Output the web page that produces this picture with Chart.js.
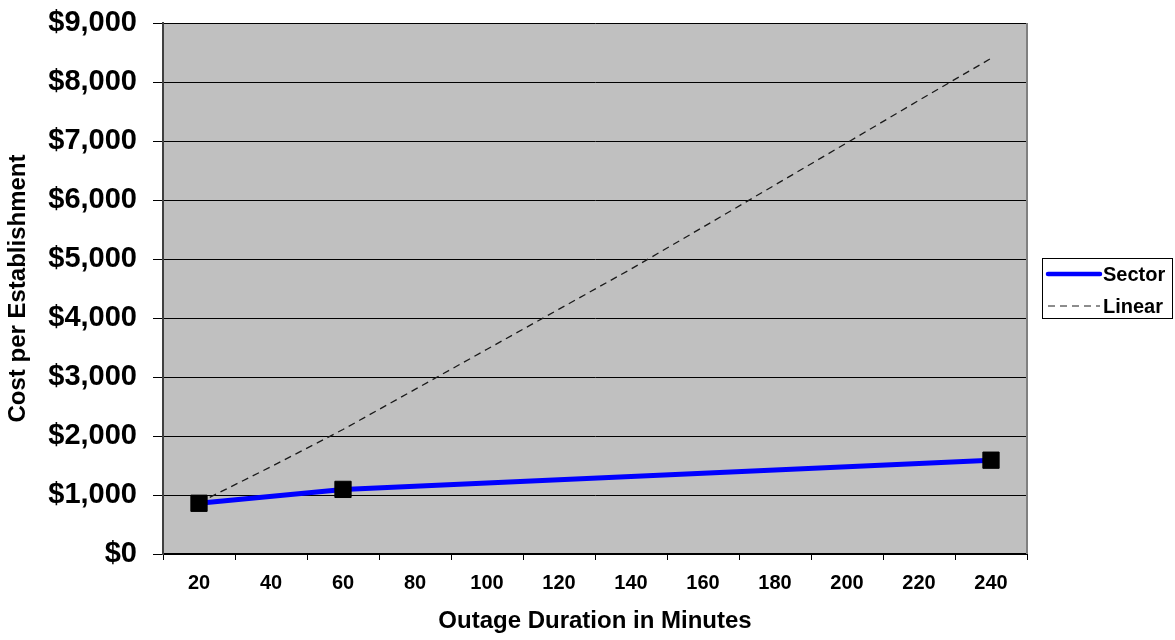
<!DOCTYPE html>
<html>
<head>
<meta charset="utf-8">
<script src="https://cdn.jsdelivr.net/npm/chart.js@4"></script>
<style>
  html, body { margin: 0; padding: 0; background: #ffffff; }
  #wrap { width: 1175px; height: 640px; }
</style>
</head>
<body>
<div id="wrap"><canvas id="c" width="1175" height="640"></canvas></div>
<script>
// Outage duration categories (minutes)
const durations = ['20', '40', '60', '80', '100', '120', '140', '160', '180', '200', '220', '240'];
// Sector cost per establishment, surveyed durations only
const sectorCost = [860, null, 1095, null, null, null, null, null, null, null, null, 1590];
// Linear reference cost
const linearCost = [870, 1480, 2110, 2790, 3470, 4150, 4830, 5540, 6255, 6970, 7690, 8400];
const seriesNames = ['Sector', 'Linear'];

const FONT = '"Liberation Sans", Arial, Helvetica, sans-serif';

const plotBackground = {
  id: 'plotBackground',
  beforeDraw(chart) {
    const { ctx, chartArea: a } = chart;
    ctx.save();
    ctx.fillStyle = '#C0C0C0';
    ctx.fillRect(a.left, a.top, a.right - a.left, a.bottom - a.top);
    ctx.restore();
  },
  beforeDatasetsDraw(chart) {
    const { ctx, chartArea: a } = chart;
    ctx.save();
    ctx.strokeStyle = '#808080';
    ctx.lineWidth = 2;
    ctx.beginPath();
    ctx.moveTo(a.right, a.top);
    ctx.lineTo(a.right, a.bottom);
    ctx.stroke();
    ctx.restore();
  }
};

// Boxed legend to the right of the plot
const boxLegend = {
  id: 'boxLegend',
  afterDraw(chart) {
    const { ctx } = chart;
    const x0 = 1042.5, y0 = 258.5, w = 130, h = 60;
    ctx.save();
    ctx.fillStyle = '#ffffff';
    ctx.fillRect(x0, y0, w, h);
    ctx.strokeStyle = '#000000';
    ctx.lineWidth = 1;
    ctx.strokeRect(x0, y0, w, h);
    const rows = [274, 306];
    chart.data.datasets.forEach((ds, i) => {
      const y = rows[i];
      ctx.save();
      ctx.strokeStyle = ds.borderColor;
      ctx.lineWidth = ds.legendLineWidth;
      ctx.setLineDash(ds.borderDash || []);
      ctx.lineCap = ds.borderDash ? 'butt' : 'round';
      ctx.beginPath();
      ctx.moveTo(1048, y);
      ctx.lineTo(1100, y);
      ctx.stroke();
      ctx.restore();
      ctx.fillStyle = '#000000';
      ctx.font = 'bold 20px ' + FONT;
      ctx.textBaseline = 'middle';
      ctx.textAlign = 'left';
      ctx.fillText(ds.label, 1103, y + 1);
    });
    ctx.restore();
  }
};

new Chart(document.getElementById('c'), {
  type: 'line',
  data: {
    labels: durations,
    datasets: [
      {
        label: seriesNames[0],
        data: sectorCost,
        borderColor: '#0000FF',
        borderWidth: 5,
        legendLineWidth: 4.5,
        spanGaps: true,
        tension: 0,
        pointStyle: 'rect',
        pointRadius: 11.5,
        pointHoverRadius: 11.5,
        pointBackgroundColor: '#000000',
        pointBorderColor: '#000000',
        pointBorderWidth: 1
      },
      {
        label: seriesNames[1],
        data: linearCost,
        borderColor: '#1a1a1a',
        borderWidth: 1.3,
        legendLineWidth: 1,
        borderDash: [7, 5],
        tension: 0,
        pointRadius: 0,
        pointHoverRadius: 0
      }
    ]
  },
  options: {
    responsive: false,
    animation: false,
    devicePixelRatio: 1,
    layout: { padding: { top: 23, right: 148, left: 0, bottom: 0 } },
    plugins: {
      legend: { display: false },
      tooltip: { enabled: false },
      title: { display: false }
    },
    scales: {
      x: {
        type: 'category',
        offset: true,
        afterFit(s) { s.height = 86; s.paddingLeft = 0; s.paddingRight = 0; },
        grid: {
          offset: true,
          drawOnChartArea: false,
          drawTicks: true,
          tickLength: 6,
          color: '#000000',
          lineWidth: 1
        },
        border: { display: true, color: '#000000', width: 2 },
        ticks: {
          color: '#000000',
          font: { family: FONT, size: 20, weight: 'bold' },
          padding: 11,
          maxRotation: 0,
          autoSkip: false
        },
        title: {
          display: true,
          text: 'Outage Duration in Minutes',
          color: '#000000',
          font: { family: FONT, size: 24, weight: 'bold' },
          padding: { top: 0, bottom: 4 }
        }
      },
      y: {
        min: 0,
        max: 9000,
        afterFit(s) { s.width = 163; s.paddingTop = 0; s.paddingBottom = 0; },
        grid: {
          drawOnChartArea: true,
          drawTicks: true,
          tickLength: 10,
          color: '#000000',
          lineWidth: 1
        },
        border: { display: true, color: '#404040', width: 2 },
        ticks: {
          stepSize: 1000,
          color: '#000000',
          font: { family: FONT, size: 29, weight: 'bold' },
          padding: 16,
          callback: (v) => '$' + Number(v).toLocaleString('en-US')
        },
        title: {
          display: true,
          text: 'Cost per Establishment',
          color: '#000000',
          font: { family: FONT, size: 24, weight: 'bold' },
          padding: { top: 4, bottom: 0 }
        }
      }
    }
  },
  plugins: [plotBackground, boxLegend]
});
</script>
</body>
</html>
